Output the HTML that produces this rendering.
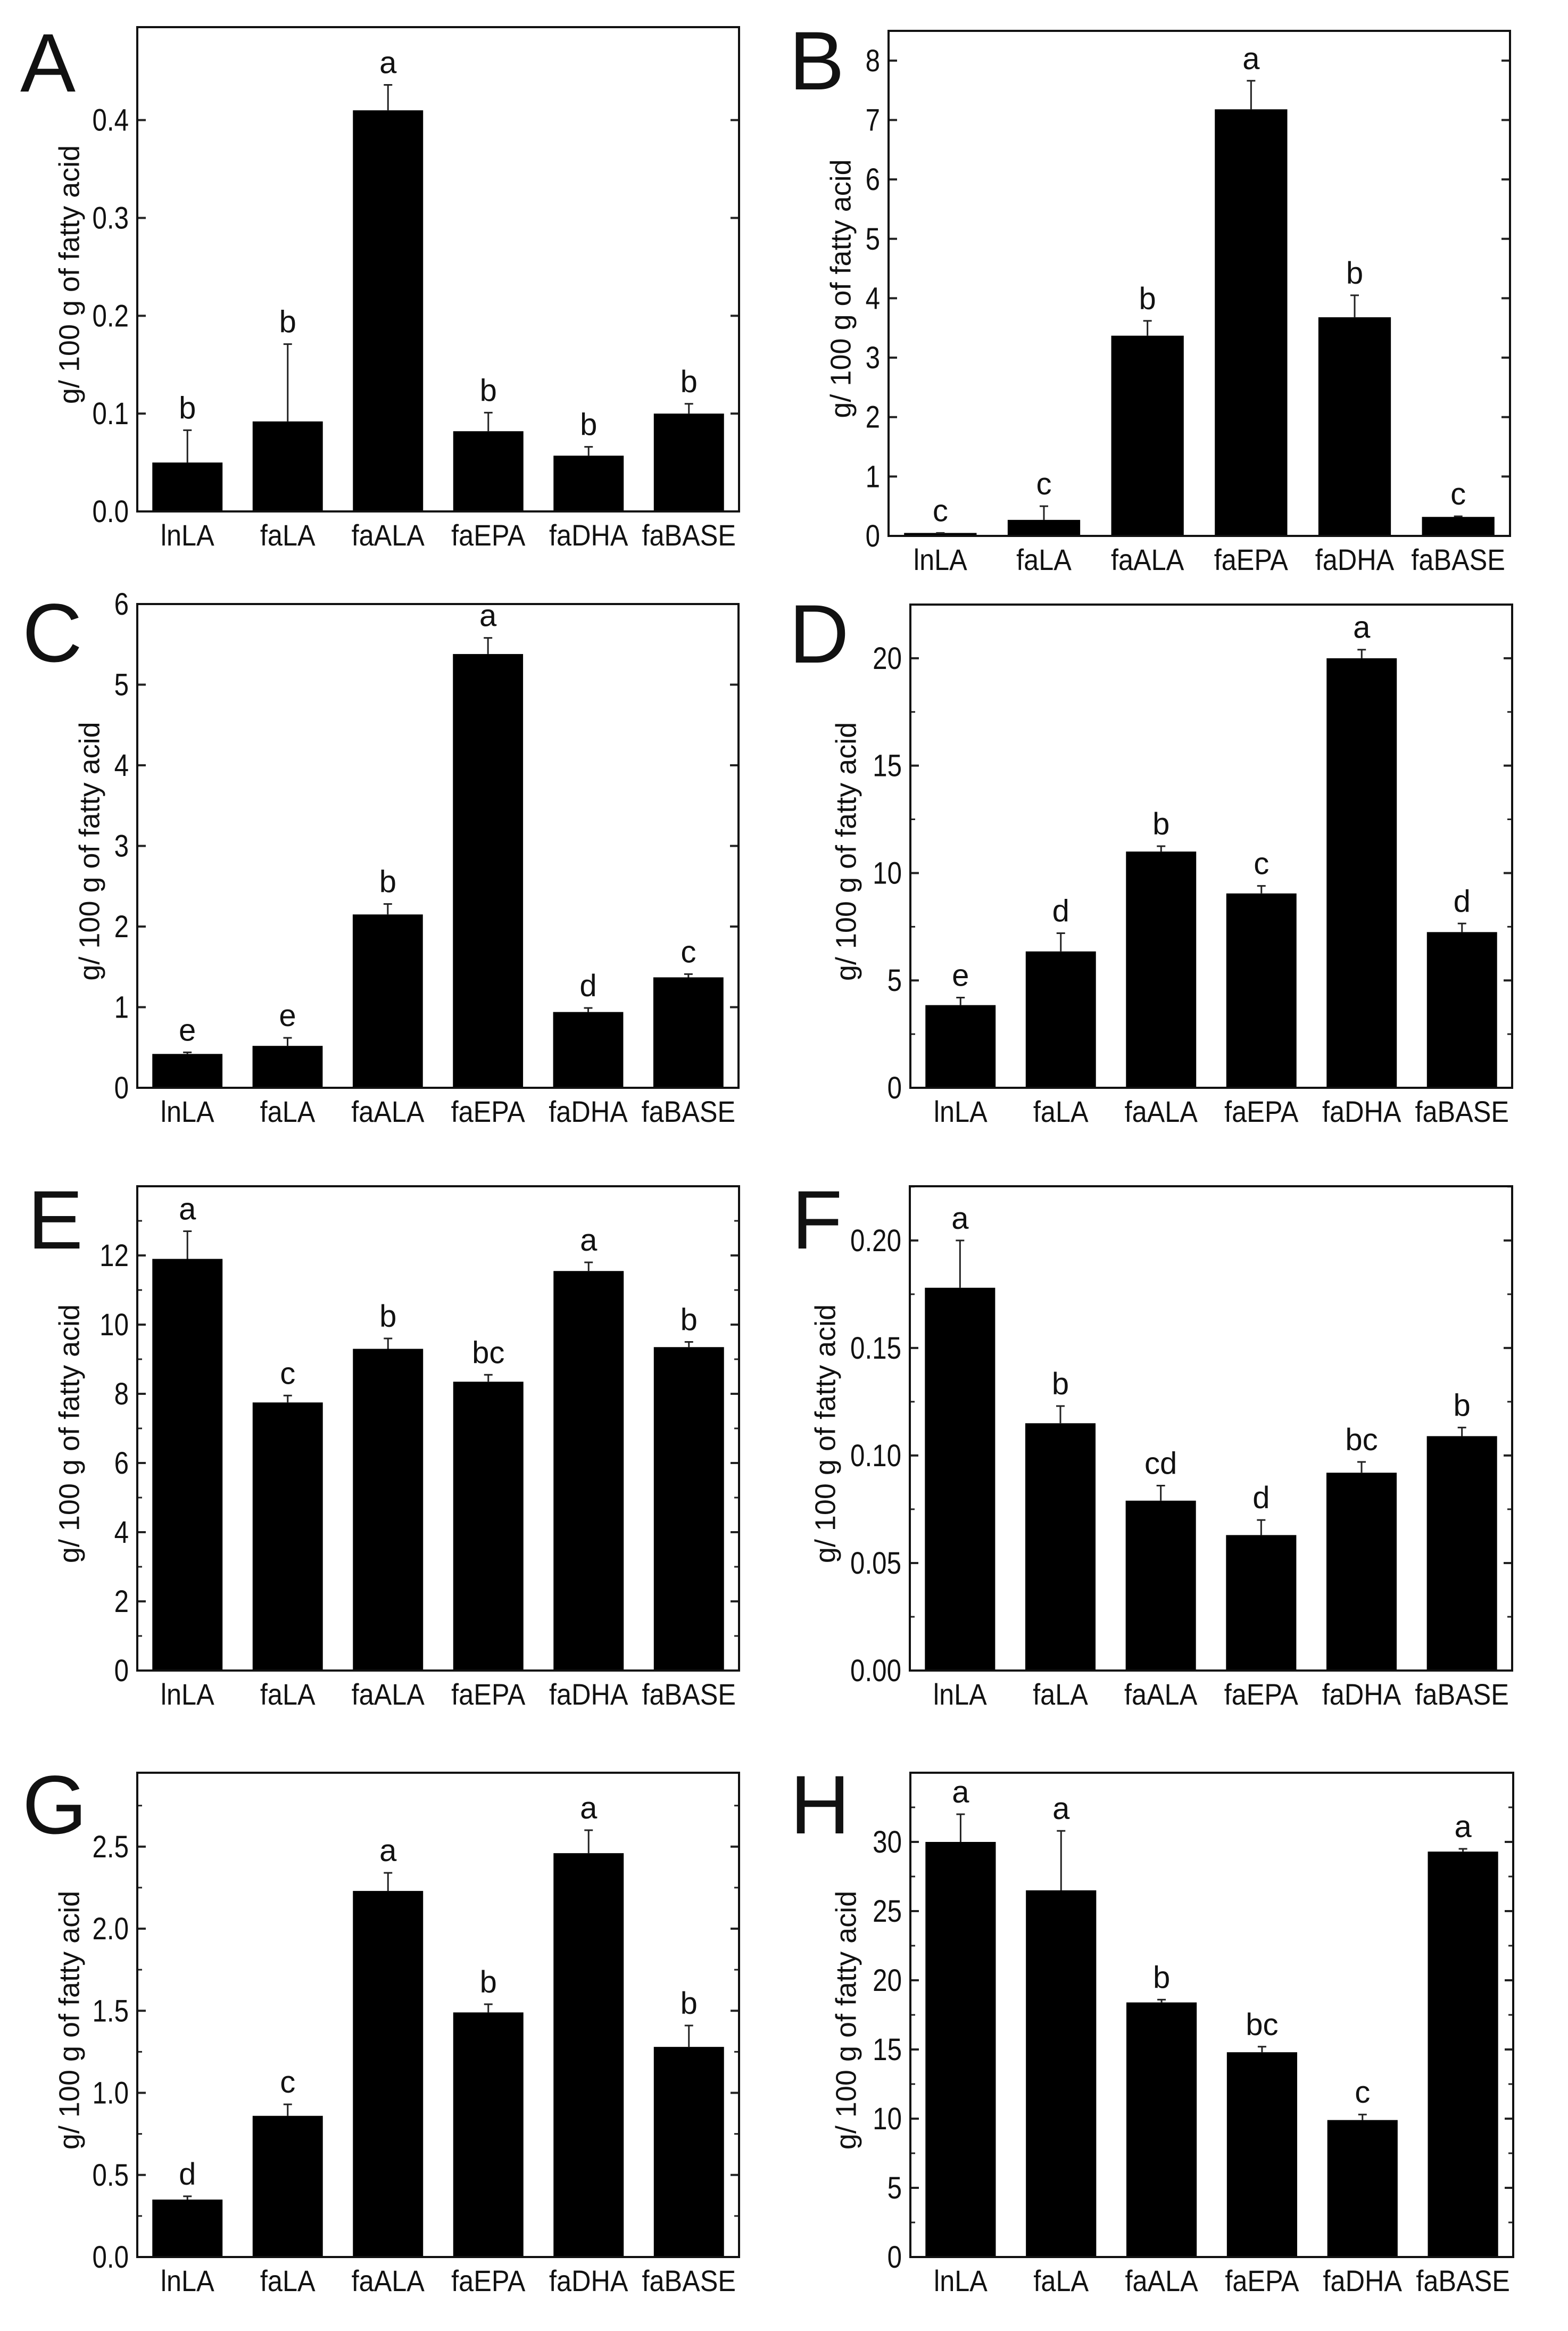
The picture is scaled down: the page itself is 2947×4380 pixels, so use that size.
<!DOCTYPE html>
<html><head><meta charset="utf-8">
<style>
html,body{margin:0;padding:0;background:#fff;}
svg{display:block;}
text{font-family:"Liberation Sans",Arial,sans-serif;fill:#111;}
</style></head>
<body>
<svg id="fig" width="2947" height="4380" viewBox="0 0 2947 4380" xmlns="http://www.w3.org/2000/svg">
<rect width="2947" height="4380" fill="#fff"/>
</svg>
<script>
const categories = ["lnLA","faLA","faALA","faEPA","faDHA","faBASE"];

const valuesA = [0.050,0.092,0.410,0.082,0.057,0.100];
const errTopA = [0.083,0.171,0.436,0.101,0.066,0.110];
const lettersA = ["b","b","a","b","b","b"];
const ticksA = [0,0.1,0.2,0.3,0.4];
const tickLabelsA = ["0.0","0.1","0.2","0.3","0.4"];

const valuesB = [0.05,0.27,3.37,7.18,3.68,0.32];
const errTopB = [0.05,0.50,3.62,7.66,4.05,0.33];
const lettersB = ["c","c","b","a","b","c"];
const ticksB = [0,1,2,3,4,5,6,7,8];
const tickLabelsB = ["0","1","2","3","4","5","6","7","8"];

const valuesC = [0.42,0.52,2.15,5.38,0.94,1.37];
const errTopC = [0.44,0.62,2.28,5.58,0.99,1.41];
const lettersC = ["e","e","b","a","d","c"];
const ticksC = [0,1,2,3,4,5,6];
const tickLabelsC = ["0","1","2","3","4","5","6"];

const valuesD = [3.85,6.35,11.0,9.05,20.0,7.25];
const errTopD = [4.2,7.2,11.25,9.4,20.4,7.65];
const lettersD = ["e","d","b","c","a","d"];
const ticksD = [0,5,10,15,20];
const tickLabelsD = ["0","5","10","15","20"];

const valuesE = [11.9,7.75,9.3,8.35,11.55,9.35];
const errTopE = [12.7,7.95,9.6,8.55,11.8,9.5];
const lettersE = ["a","c","b","bc","a","b"];
const ticksE = [0,2,4,6,8,10,12];
const tickLabelsE = ["0","2","4","6","8","10","12"];

const valuesF = [0.178,0.115,0.079,0.063,0.092,0.109];
const errTopF = [0.200,0.123,0.086,0.070,0.097,0.113];
const lettersF = ["a","b","cd","d","bc","b"];
const ticksF = [0,0.05,0.10,0.15,0.20];
const tickLabelsF = ["0.00","0.05","0.10","0.15","0.20"];

const valuesG = [0.35,0.86,2.23,1.49,2.46,1.28];
const errTopG = [0.37,0.93,2.34,1.54,2.60,1.41];
const lettersG = ["d","c","a","b","a","b"];
const ticksG = [0,0.5,1.0,1.5,2.0,2.5];
const tickLabelsG = ["0.0","0.5","1.0","1.5","2.0","2.5"];

const valuesH = [30,26.5,18.4,14.8,9.9,29.3];
const errTopH = [32,30.8,18.6,15.2,10.3,29.5];
const lettersH = ["a","a","b","bc","c","a"];
const ticksH = [0,5,10,15,20,25,30];
const tickLabelsH = ["0","5","10","15","20","25","30"];

const NS = "http://www.w3.org/2000/svg";
const svg = document.getElementById('fig');
function mk(tag, attrs, parent){
  const e = document.createElementNS(NS, tag);
  for (const k in attrs) e.setAttribute(k, attrs[k]);
  parent.appendChild(e);
  return e;
}

const panels = [
  {id:"A", L:258, R:1389, T:51, B:961, ymax:0.495, minor:0, vals:valuesA, err:errTopA, let:lettersA, ticks:ticksA, tl:tickLabelsA, lx:38, ly:172, tx:134},
  {id:"B", L:1670, R:2838, T:58, B:1007, ymax:8.5, minor:0, vals:valuesB, err:errTopB, let:lettersB, ticks:ticksB, tl:tickLabelsB, lx:1483, ly:168, tx:1584},
  {id:"C", L:258, R:1388, T:1135, B:2044, ymax:6, minor:0, vals:valuesC, err:errTopC, let:lettersC, ticks:ticksC, tl:tickLabelsC, lx:42, ly:1243, tx:172},
  {id:"D", L:1711, R:2842, T:1136, B:2044, ymax:22.5, minor:2.5, vals:valuesD, err:errTopD, let:lettersD, ticks:ticksD, tl:tickLabelsD, lx:1483, ly:1245, tx:1594},
  {id:"E", L:258, R:1389, T:2229, B:3139, ymax:14, minor:1, vals:valuesE, err:errTopE, let:lettersE, ticks:ticksE, tl:tickLabelsE, lx:52, ly:2346, tx:134},
  {id:"F", L:1710, R:2842, T:2229, B:3139, ymax:0.2252, minor:0.025, vals:valuesF, err:errTopF, let:lettersF, ticks:ticksF, tl:tickLabelsF, lx:1488, ly:2346, tx:1555},
  {id:"G", L:258, R:1389, T:3331, B:4241, ymax:2.95, minor:0.25, vals:valuesG, err:errTopG, let:lettersG, ticks:ticksG, tl:tickLabelsG, lx:42, ly:3445, tx:134},
  {id:"H", L:1711, R:2844, T:3331, B:4241, ymax:35, minor:2.5, vals:valuesH, err:errTopH, let:lettersH, ticks:ticksH, tl:tickLabelsH, lx:1485, ly:3445, tx:1594}
];

panels.forEach(p => {
  const g = mk('g', {}, svg);
  
  
  const y = v => p.B - (v / p.ymax) * (p.B - p.T);
  const step = (p.R - p.L) / categories.length;
  const x = i => p.L + (i + 0.5) * step;
  const bw = step * 0.70;

  const lab = mk('text', {x:p.lx, y:p.ly, 'font-size':156}, g);
  lab.textContent = p.id;
  
  

  p.vals.forEach((v, i) => {
    const r = mk('rect', {x:x(i)-bw/2, y:y(v), width:bw, height:p.B - y(v), fill:'#000'}, g);
    
    
    const et = y(p.err[i]);
    const el = mk('path', {d:`M${x(i)} ${y(v)} L${x(i)} ${et} M${x(i)-8} ${et} L${x(i)+8} ${et}`, stroke:'#222', 'stroke-width':3, fill:'none'}, g);
    
    
    const lt = mk('text', {x:x(i), y:et - 22, 'font-size':58, 'text-anchor':'middle'}, g);
    lt.textContent = p.let[i];
    
    
    const cx = x(i);
    const cl = mk('text', {x:0, y:0, 'font-size':56, 'text-anchor':'middle', transform:`translate(${cx} ${p.B + 64}) scale(0.9 1)`}, g);
    cl.textContent = categories[i];
    
    
  });

  if (p.minor > 0) {
    for (let v = p.minor; v < p.ymax; v += p.minor * 2) {
      const yy = y(v);
      mk('path', {d:`M${p.L} ${yy} L${p.L+9} ${yy} M${p.R} ${yy} L${p.R-9} ${yy}`, stroke:'#222', 'stroke-width':3}, g);
    }
  }
  p.ticks.forEach((t, k) => {
    const yy = y(t);
    const tk = mk('path', {d:`M${p.L} ${yy} L${p.L+16} ${yy} M${p.R} ${yy} L${p.R-16} ${yy}`, stroke:'#222', 'stroke-width':4}, g);
    
    
    const tl = mk('text', {x:0, y:0, 'font-size':58, 'text-anchor':'end', transform:`translate(${p.L - 16} ${yy + 20}) scale(0.85 1)`}, g);
    tl.textContent = p.tl[k];
    
    
  });

  const frame = mk('rect', {x:p.L, y:p.T, width:p.R-p.L, height:p.B-p.T, fill:'none', stroke:'#111', 'stroke-width':4}, g);
  
  

  const cy = (p.T + p.B) / 2 + 10;
  const yt = mk('text', {x:p.tx, y:cy, 'font-size':54, 'text-anchor':'middle', transform:`rotate(-90 ${p.tx} ${cy})`, 'dominant-baseline':'middle'}, g);
  yt.textContent = "g/ 100 g of fatty acid";
  
  
});
</script>
</body></html>
